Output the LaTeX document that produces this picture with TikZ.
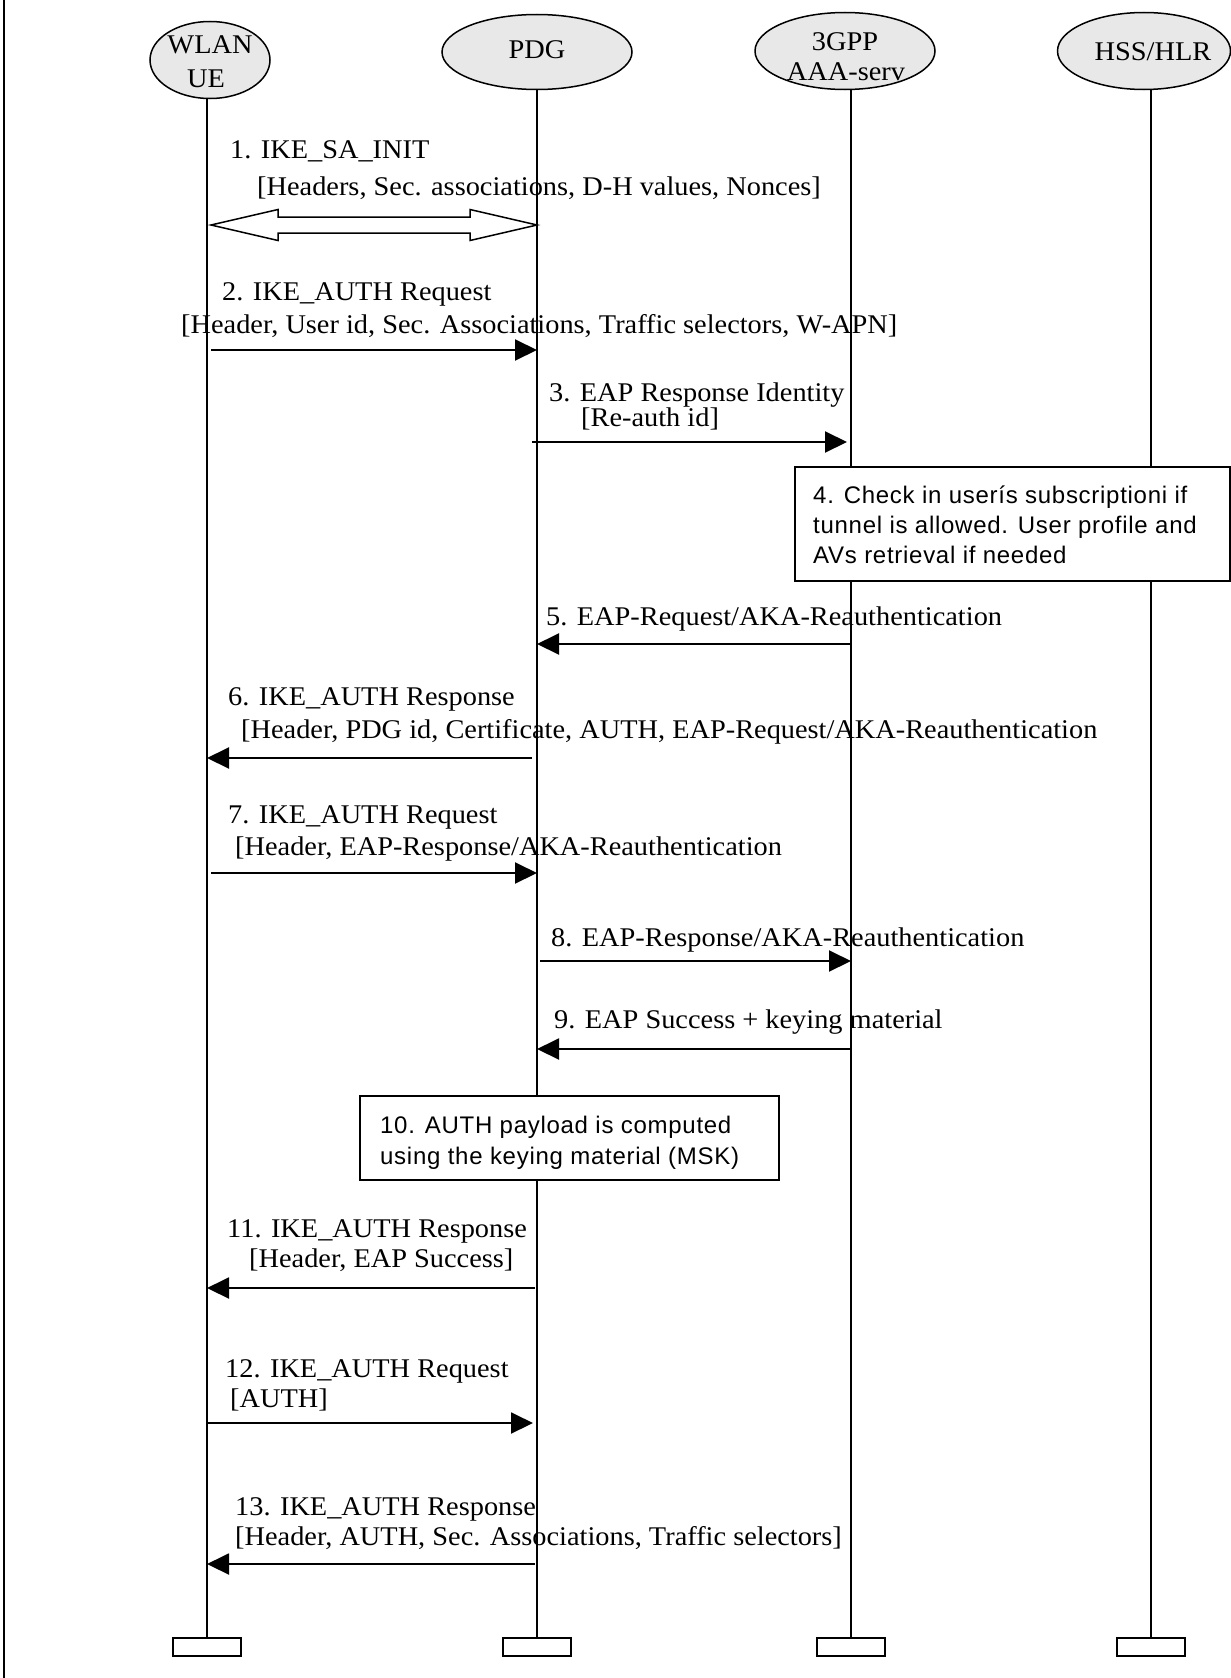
\documentclass[tikz,border=0pt]{standalone}
\usepackage{fontspec}
\setmainfont{Liberation Serif}[FakeStretch=1.05]
\newfontfamily\boxfont{Liberation Sans}[LetterSpace=3]
\usetikzlibrary{shapes.geometric,arrows.meta,calc}
\definecolor{actorfill}{RGB}{232,232,232}
\tikzset{
  actor/.style={ellipse, draw, line width=1.5pt, fill=actorfill, inner sep=0pt},
  endbox/.style={draw, line width=2pt, minimum width=68pt, minimum height=18pt, inner sep=0pt},
  life/.style={line width=2pt},
  msg/.style={line width=2pt, -{Triangle[length=22pt,width=21pt]}},
  hollow/.style={line width=1.5pt, fill=white, line join=miter},
  lbl/.style={anchor=base west, inner sep=0pt, font=\fontsize{27}{30}\selectfont},
  atxt/.style={anchor=base, inner sep=0pt, font=\fontsize{27}{30}\selectfont},
  notebox/.style={draw, line width=1.5pt, fill=white, inner sep=0pt, anchor=north west},
  ntxt/.style={anchor=base west, inner sep=0pt, font=\boxfont\fontsize{24}{30}\selectfont},
}
\begin{document}
\begin{tikzpicture}[x=1pt,y=-1pt]
\useasboundingbox (0,0) rectangle (1231,1678);
\draw[line width=2pt] (4,0) -- (4,1678);

% actors
\node[actor, minimum width=120pt, minimum height=77pt] (ue)  at (210,60) {};
\node[actor, minimum width=190pt, minimum height=75pt] (pdg) at (537,52) {};
\node[actor, minimum width=180pt, minimum height=77pt] (aaa) at (845,51) {};
\node[actor, minimum width=173pt, minimum height=77pt] (hss) at (1144,51) {};
\node[atxt] (ueT1)  at (210,54) {WLAN};
\node[atxt] (ueT2)  at (206,88) {UE};
\node[atxt] (pdgT)  at (537,59) {PDG};
\node[atxt] (aaaT1) at (845,51) {3GPP};
\node[atxt] (aaaT2) at (846,81) {AAA-serv};
\node[atxt] (hssT)  at (1153,61) {HSS/HLR};

% end boxes
\node[endbox] (ueEnd)  at (207,1647) {};
\node[endbox] (pdgEnd) at (537,1647) {};
\node[endbox] (aaaEnd) at (851,1647) {};
\node[endbox] (hssEnd) at (1151,1647) {};

% lifelines
\draw[life] (ueEnd.north |- ue.south) -- (ueEnd.north);
\draw[life] (pdgEnd.north |- pdg.south) -- (pdgEnd.north);
\draw[life] (aaaEnd.north |- aaa.south) -- (aaaEnd.north);
\draw[life] (hssEnd.north |- hss.south) -- (hssEnd.north);

% 1
\node[lbl] (l1a) at (230,158) {1. IKE\_SA\_INIT};
\node[lbl] (l1b) at (257,195) {[Headers, Sec. associations, D-H values, Nonces]};
\path (ueEnd |- 0,225) ++(4,0) coordinate (dL);
\path (pdgEnd |- 0,225) coordinate (dR);
\draw[hollow] (dL) -- ++(67,-15.5) -- ++(0,7.5) -- ($(dR)+(-67,-8)$) -- ++(0,-7.5) -- (dR)
  -- ++(-67,15.5) -- ++(0,-7.5) -- ($(dL)+(67,8)$) -- ++(0,7.5) -- cycle;

% 2
\node[lbl] (l2a) at (222,300) {2. IKE\_AUTH Request};
\node[lbl] (l2b) at (181,333) {[Header, User id, Sec. Associations, Traffic selectors, W-APN]};
\draw[msg] ($(ueEnd |- 0,350)+(4,0)$) -- (pdgEnd |- 0,350);

% 3
\node[lbl] (l3a) at (549,401) {3. EAP Response Identity};
\node[lbl] (l3b) at (581,426) {[Re-auth id]};
\draw[msg] ($(pdgEnd |- 0,442)+(-5,0)$) -- ($(aaaEnd |- 0,442)+(-4,0)$);

% 4
\node[notebox, minimum width=435pt, minimum height=114pt] (n4) at (794,466) {};
\node[ntxt] (n4a) at (813,503) {4. Check in userís subscriptioni if};
\node[ntxt] (n4b) at (813,533) {tunnel is allowed. User profile and};
\node[ntxt] (n4c) at (813,563) {AVs retrieval if needed};

% 5
\node[lbl] (l5) at (546,625) {5. EAP-Request/AKA-Reauthentication};
\draw[msg] (aaaEnd |- 0,644) -- (pdgEnd |- 0,644);

% 6
\node[lbl] (l6a) at (228,705) {6. IKE\_AUTH Response};
\node[lbl] (l6b) at (241,738) {[Header, PDG id, Certificate, AUTH, EAP-Request/AKA-Reauthentication};
\draw[msg] ($(pdgEnd |- 0,758)+(-5,0)$) -- (ueEnd |- 0,758);

% 7
\node[lbl] (l7a) at (228,823) {7. IKE\_AUTH Request};
\node[lbl] (l7b) at (235,855) {[Header, EAP-Response/AKA-Reauthentication};
\draw[msg] ($(ueEnd |- 0,873)+(4,0)$) -- (pdgEnd |- 0,873);

% 8
\node[lbl] (l8) at (551,946) {8. EAP-Response/AKA-Reauthentication};
\draw[msg] ($(pdgEnd |- 0,961)+(3,0)$) -- (aaaEnd |- 0,961);

% 9
\node[lbl] (l9) at (554,1028) {9. EAP Success + keying material};
\draw[msg] (aaaEnd |- 0,1049) -- (pdgEnd |- 0,1049);

% 10
\node[notebox, minimum width=419pt, minimum height=84pt] (n10) at (359,1095) {};
\node[ntxt] (n10a) at (380,1133) {10. AUTH payload is computed};
\node[ntxt] (n10b) at (380,1164) {using the keying material (MSK)};

% 11
\node[lbl] (l11a) at (227,1237) {11. IKE\_AUTH Response};
\node[lbl] (l11b) at (249,1267) {[Header, EAP Success]};
\draw[msg] ($(pdgEnd |- 0,1288)+(-2,0)$) -- (ueEnd |- 0,1288);

% 12
\node[lbl] (l12a) at (225,1377) {12. IKE\_AUTH Request};
\node[lbl] (l12b) at (230,1407) {[AUTH]};
\draw[msg] (ueEnd |- 0,1423) -- ($(pdgEnd |- 0,1423)+(-4,0)$);

% 13
\node[lbl] (l13a) at (235,1515) {13. IKE\_AUTH Response};
\node[lbl] (l13b) at (235,1545) {[Header, AUTH, Sec. Associations, Traffic selectors]};
\draw[msg] ($(pdgEnd |- 0,1564)+(-2,0)$) -- (ueEnd |- 0,1564);
\end{tikzpicture}
\end{document}
